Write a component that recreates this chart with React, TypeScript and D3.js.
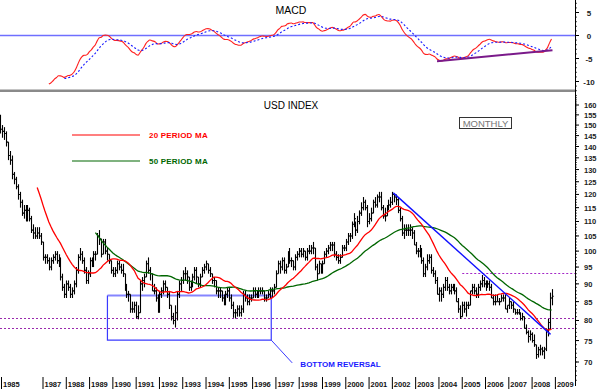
import React from 'react';
import * as d3 from 'd3';

const W = 600;
const H = 391;

// ---- data (monthly USD index, starting March 1985) ----
const startYear = 1985;
const startMonth = 2; // March (0-based)

const highs = [
  155, 150, 149, 147, 142, 138, 136, 129, 127, 124,
  121, 118, 116, 116, 116, 115, 112, 109, 108, 108, 108, 106,
  103, 99, 99, 98, 98, 99, 100, 100, 99, 98, 93, 90,
  91, 91, 90, 89, 91, 95, 99, 101, 100, 98, 95, 94,
  98, 98, 100, 100, 106, 107, 104, 104, 104, 101, 99, 97,
  95, 95, 97, 97, 96, 96, 93, 90, 88, 87, 85, 85,
  85, 84, 91, 92, 93, 97, 98, 95, 93, 90, 89, 87,
  88, 89, 91, 91, 89, 88, 84, 82, 84, 88, 91, 92,
  94, 95, 94, 92, 91, 93, 95, 95, 92, 93, 95, 96,
  97, 96, 95, 93, 92, 91, 89, 89, 88, 87, 88, 89,
  89, 87, 85, 83, 84, 84, 84, 88, 88, 87, 87, 87,
  89, 89, 88, 89, 89, 89, 88, 87, 88, 89, 89, 90,
  94, 97, 97, 98, 98, 96, 100, 101, 98, 97, 99, 100,
  101, 101, 101, 100, 101, 102, 102, 103, 101, 96, 97, 96,
  97, 100, 101, 102, 103, 103, 103, 100, 99, 99, 102, 102,
  104, 106, 106, 110, 113, 110, 112, 114, 117, 119, 118, 116,
  113, 115, 118, 119, 120, 121, 121, 116, 115, 116, 118, 119,
  121, 120, 120, 119, 115, 112, 109, 109, 109, 109, 108, 107,
  103, 101, 102, 101, 98, 96, 99, 99, 99, 95, 94, 92,
  89, 89, 90, 92, 92, 90, 90, 90, 90, 89, 86, 84,
  85, 85, 85, 85, 88, 90, 90, 89, 90, 91, 92.6, 92,
  91, 91, 91, 90, 87, 87, 87, 86, 87, 87, 87, 84,
  86, 85, 85, 83, 83, 83, 82, 82, 81, 79, 77.5, 77.5,
  77, 76.5, 74, 73.5, 74, 73.5, 73.5, 78, 80.4, 87.5, 88.5,
];

const lows = [
  146, 144, 143, 140, 134, 132, 126, 124, 122, 118,
  115, 112, 111, 110, 110, 110, 106, 104, 104, 104, 104, 102,
  97, 96, 96, 94, 94, 96, 97, 96, 95, 91, 88, 86,
  86, 88, 86, 86, 87, 89, 93, 97, 96, 93, 90, 90,
  92, 95, 95, 97, 99, 102, 98, 99, 99, 97, 96, 93,
  92, 92, 93, 94, 93, 92, 88, 86, 85, 82, 82, 82,
  80.5, 80.3, 82, 88, 89, 92, 93, 91, 88, 87, 85, 82,
  82, 86, 87, 88, 86, 83, 80, 79, 78.2, 80, 86, 88,
  90, 91, 90, 88, 88, 89, 91, 90, 89, 89, 92, 93,
  94, 93, 92, 90, 89, 87, 86, 86, 85, 84, 84, 86,
  85, 83, 80.7, 80.5, 81, 81, 81, 82, 85, 84, 84, 85,
  86, 86, 86, 86, 87, 87, 85, 85, 86, 86, 86, 87,
  89, 93, 93, 94, 93, 93, 95, 96, 95, 94, 94, 97,
  98, 98, 98, 97, 97, 99, 99, 99, 94, 91, 93, 93,
  93, 96, 98, 99, 100, 100, 98, 97, 96, 96, 98, 100,
  100, 102, 103, 104, 108, 105, 106, 109, 112, 114, 114, 108,
  109, 110, 113, 115, 115, 117, 114, 111, 110, 112, 114, 115,
  116, 117, 116, 113, 110, 105, 104, 105, 105, 105, 104, 102,
  99, 98, 98, 96, 92, 92, 94, 96, 93, 92, 90, 87,
  85, 85, 86, 88, 88, 87, 87, 88, 87, 85, 82, 80.4,
  81, 82, 81, 83, 84, 87, 87, 86, 86, 88, 89, 89,
  88, 89, 88, 86, 84, 84, 85, 84, 85, 85, 83, 82,
  83, 83, 82, 81.5, 81.5, 81.5, 80, 80, 78, 76.5, 74.5, 75,
  74.5, 73.5, 70.7, 71, 71.5, 71.5, 70.7, 72.5, 76, 77.6, 84,
];

const closes = [
  148, 147, 146, 142, 136, 134, 128, 126, 123, 120,
  117, 113, 114, 111, 114, 111, 107, 106, 105, 106, 105, 103,
  98, 98, 97, 95, 97, 98, 99, 97, 97, 92, 89, 87,
  90, 89, 87, 88, 90, 94, 98, 99, 97, 94, 91, 93,
  97, 96, 99, 99, 105, 104, 99, 103, 100, 99, 97, 94,
  93, 94, 96, 95, 94, 93, 89, 87, 87, 83, 83, 84,
  81, 82, 90, 91, 92, 96, 94, 93, 88, 88, 86, 83,
  87, 88, 90, 89, 87, 84, 81, 80, 82, 87, 90, 91,
  93, 93, 92, 89, 90, 92, 94, 92, 90, 92, 94, 95,
  96, 94, 93, 91, 91, 88, 88, 88, 86, 85, 87, 88,
  86, 84, 82, 82, 83, 82, 83, 87, 86, 85, 86, 86,
  88, 87, 87, 88, 88, 88, 86, 86, 87, 88, 88, 89,
  93, 96, 95, 97, 94, 95, 99, 97, 97, 95, 98, 99,
  100, 99, 100, 98, 100, 100, 101, 101, 95, 93, 96, 94,
  96, 99, 100, 101, 102, 102, 99, 98, 97, 98, 101, 101,
  103, 105, 105, 109, 111, 107, 110, 113, 115, 117, 115, 110,
  111, 113, 117, 116, 119, 119, 115, 112, 112, 115, 116, 117,
  120, 119, 118, 114, 111, 106, 107, 107, 107, 107, 106, 102,
  100, 100, 100, 97, 93, 95, 97, 98, 94, 93, 91, 87,
  88, 87, 89, 91, 89, 88, 89, 89, 88, 85, 83, 81,
  84, 83, 84, 84, 88, 89, 88, 87, 89, 90, 91, 90,
  89, 90, 89, 86, 85, 85, 85, 85, 86, 86, 83, 84,
  85, 84, 83, 82, 82, 82, 80.5, 81, 78, 77, 76, 76.5,
  75, 74, 71.7, 72.8, 73, 72.5, 73, 77.5, 79.5, 86, 86.5,
];

const yearLabels = [1985, 1987, 1988, 1989, 1990, 1991, 1992, 1993, 1994, 1995, 1996, 1997,
  1998, 1999, 2000, 2001, 2002, 2003, 2004, 2005, 2006, 2007, 2008, 2009];
const priceTicks = [70, 75, 80, 85, 90, 95, 100, 105, 110, 115, 120, 125, 130, 135, 140, 145, 150, 155, 160];
const macdTicks = [5, 0, -5, -10];

const maPeriods = [20, 50];
const macdFast = 12;
const macdSlow = 26;
const macdSignal = 9;

// annotations (month index, value)
const downTrend = [[202.5, 120.6], [283.5, 76.5]];
const macdTrend = [[225, -5.6], [284.5, -3.2]];
const supportLevels = [80.6, 78.2];
const resistanceLevel = { from: 238, value: 93.2 };
const reversalBox = { i0: 55.2, i1: 139.6, top: 86.7, bottom: 75.1 };
const reversalPointer = [[139.6, 75.1], [150.4, 69.8]];
const reversalLabel = { i: 154.6, value: 69.6, text: 'BOTTOM REVERSAL' };

// ---- helpers ----
const monthToYear = (i: number) => startYear + (startMonth + i) / 12;

function ema(arr: number[], n: number) {
  const k = 2 / (n + 1);
  const out: number[] = [];
  let prev = arr[0];
  arr.forEach((v, i) => {
    prev = i === 0 ? v : v * k + prev * (1 - k);
    out.push(prev);
  });
  return out;
}

function sma(arr: number[], n: number) {
  return arr.map((_, i) => (i < n - 1 ? null : (d3.mean(arr.slice(i - n + 1, i + 1)) as number)));
}

export default function App() {
  const x = d3.scaleLinear().domain([1987, 2009]).range([43, 555.4]);
  const xi = (i: number) => x(monthToYear(i));
  const y = d3.scaleLog().domain([70, 160]).range([362, 105]);
  const ym = d3.scaleLinear().domain([-10, 5]).range([81.5, 12.5]);
  const axisX = 575;

  const ma20 = sma(closes, maPeriods[0]);
  const ma50 = sma(closes, maPeriods[1]);
  const eF = ema(closes, macdFast);
  const eS = ema(closes, macdSlow);
  const macd = closes.map((_, i) => eF[i] - eS[i]);
  const macdStart = macdSlow - 1;
  const macdVis = macd.slice(macdStart);
  const sig = ema(macdVis, macdSignal);

  const maLine = d3
    .line<number | null>()
    .defined((d) => d !== null)
    .x((_, i) => xi(i))
    .y((d) => y(d as number));

  const macdLine = d3
    .line<number>()
    .x((_, i) => xi(i + macdStart))
    .y((d) => ym(d))
    .curve(d3.curveMonotoneX);
  const sigLine = d3
    .line<number>()
    .x((_, i) => xi(i + macdStart + macdSignal - 1))
    .y((d) => ym(d))
    .curve(d3.curveMonotoneX);

  const minorPrice = d3.range(66, 166, 1);
  const minorMacd = d3.range(-12, 8, 1);

  const font = 'Liberation Sans, Arial, Helvetica, sans-serif';

  return (
    <svg
      width={W}
      height={H}
      style={{ position: 'absolute', left: 0, top: 0, background: '#fff' }}
      fontFamily={font}
    >
      <rect x={0} y={0} width={W} height={H} fill="#fff" />

      {/* ---------- MACD panel ---------- */}
      <text x={291} y={14} fontSize={10.5} textAnchor="middle" fill="#000">MACD</text>
      <line x1={0} x2={axisX} y1={ym(0)} y2={ym(0)} stroke="#6f6fff" strokeWidth={1.6} />
      <path d={macdLine(macdVis) || ''} fill="none" stroke="#ff2020" strokeWidth={1.1} />
      <path
        d={sigLine(sig.slice(macdSignal - 1)) || ''}
        fill="none"
        stroke="#1a1aff"
        strokeWidth={1.1}
        strokeDasharray="2,2"
      />
      <line
        x1={xi(macdTrend[0][0])}
        y1={ym(macdTrend[0][1])}
        x2={xi(macdTrend[1][0])}
        y2={ym(macdTrend[1][1])}
        stroke="#7a1a8a"
        strokeWidth={2}
      />
      {minorMacd.map((v) => (
        <line key={'mm' + v} x1={axisX} x2={axisX + 2} y1={ym(v)} y2={ym(v)} stroke="#000" strokeWidth={0.7} />
      ))}
      {macdTicks.map((v) => (
        <g key={'mt' + v}>
          <line x1={axisX} x2={axisX + 4} y1={ym(v)} y2={ym(v)} stroke="#000" />
          <text x={589} y={ym(v) + 3} fontSize={8} fontWeight="bold" textAnchor="middle" fill="#222">{v}</text>
        </g>
      ))}

      {/* separator */}
      <rect x={0} y={89.5} width={axisX} height={2.5} fill="#8a8a8a" />

      {/* ---------- price panel ---------- */}
      <text x={291} y={109} fontSize={10} textAnchor="middle" fill="#000">USD INDEX</text>

      {/* legend */}
      <line x1={72} x2={140} y1={135} y2={135} stroke="#ff0000" strokeWidth={1.2} />
      <text x={149} y={138} fontSize={8} fontWeight="bold" fill="#ff0000" letterSpacing={0.2}>20 PERIOD MA</text>
      <line x1={72} x2={140} y1={161} y2={161} stroke="#006600" strokeWidth={1.2} />
      <text x={149} y={164} fontSize={8} fontWeight="bold" fill="#006600" letterSpacing={0.2}>50 PERIOD MA</text>

      {/* MONTHLY box */}
      <rect x={459.5} y={117.5} width={52} height={11} fill="#fff" stroke="#333" strokeWidth={1} />
      <text x={485.5} y={126.5} fontSize={9.5} textAnchor="middle" fill="#777">MONTHLY</text>

      {/* dotted levels */}
      {supportLevels.map((v) => (
        <line key={'s' + v} x1={0} x2={axisX} y1={Math.round(y(v)) + 0.5} y2={Math.round(y(v)) + 0.5} stroke="#9a2aae" strokeWidth={1} strokeDasharray="2,2" />
      ))}
      <line
        x1={xi(resistanceLevel.from)}
        x2={axisX}
        y1={Math.round(y(resistanceLevel.value)) + 0.5}
        y2={Math.round(y(resistanceLevel.value)) + 0.5}
        stroke="#a428c8"
        strokeWidth={1.2}
        strokeDasharray="2,2"
      />

      {/* reversal box */}
      <line x1={xi(reversalBox.i0)} x2={xi(reversalBox.i1)} y1={y(reversalBox.top)} y2={y(reversalBox.top)} stroke="#8585ff" strokeWidth={2} />
      <polyline
        points={`${xi(reversalBox.i0)},${y(reversalBox.top)} ${xi(reversalBox.i0)},${y(reversalBox.bottom)} ${xi(reversalBox.i1)},${y(reversalBox.bottom)} ${xi(reversalBox.i1)},${y(reversalBox.top)}`}
        fill="none"
        stroke="#3a3aff"
        strokeWidth={1.2}
      />
      <line
        x1={xi(reversalPointer[0][0])}
        y1={y(reversalPointer[0][1])}
        x2={xi(reversalPointer[1][0])}
        y2={y(reversalPointer[1][1])}
        stroke="#3a3aff"
        strokeWidth={1}
      />
      <text x={xi(reversalLabel.i)} y={y(reversalLabel.value) + 3} fontSize={8} fontWeight="bold" fill="#1a1aff">
        {reversalLabel.text}
      </text>

      {/* bars (HLC with open = previous close) */}
      <g stroke="#000" strokeWidth={1.1}>
        {closes.map((c, i) => {
          const bx = Math.round(xi(i)) + 0.5;
          const o = i > 0 ? closes[i - 1] : c;
          return (
            <g key={'b' + i}>
              <line x1={bx} x2={bx} y1={y(highs[i])} y2={y(lows[i])} />
              <line x1={bx - 1.2} x2={bx} y1={y(o)} y2={y(o)} />
              <line x1={bx} x2={bx + 1.2} y1={y(c)} y2={y(c)} />
            </g>
          );
        })}
      </g>

      {/* moving averages */}
      <path d={maLine(ma50) || ''} fill="none" stroke="#006600" strokeWidth={1.3} />
      <path d={maLine(ma20) || ''} fill="none" stroke="#ff0000" strokeWidth={1.3} />

      {/* downtrend line */}
      <line
        x1={xi(downTrend[0][0])}
        y1={y(downTrend[0][1])}
        x2={xi(downTrend[1][0])}
        y2={y(downTrend[1][1])}
        stroke="#1010ff"
        strokeWidth={1.4}
      />

      {/* right axis */}
      <line x1={axisX + 0.5} x2={axisX + 0.5} y1={0} y2={386} stroke="#000" strokeWidth={1} />
      {minorPrice.map((v) => (
        <line key={'mp' + v} x1={axisX} x2={axisX + 2} y1={y(v)} y2={y(v)} stroke="#000" strokeWidth={0.7} />
      ))}
      {priceTicks.map((v) => (
        <g key={'pt' + v}>
          <line x1={axisX} x2={axisX + 4} y1={y(v)} y2={y(v)} stroke="#000" />
          <text x={584} y={y(v) + 3} fontSize={7.5} fontWeight="bold" fill="#222">{v}</text>
        </g>
      ))}

      {/* year axis */}
      {yearLabels.map((yr) => {
        const tx = Math.max(1.5, x(yr));
        return (
          <g key={'y' + yr}>
            <line x1={tx} x2={tx} y1={377} y2={389} stroke="#000" strokeWidth={1} />
            <text x={tx + 1.5} y={386.5} fontSize={7.5} fontWeight="bold" fill="#111">{yr}</text>
          </g>
        );
      })}
    </svg>
  );
}
